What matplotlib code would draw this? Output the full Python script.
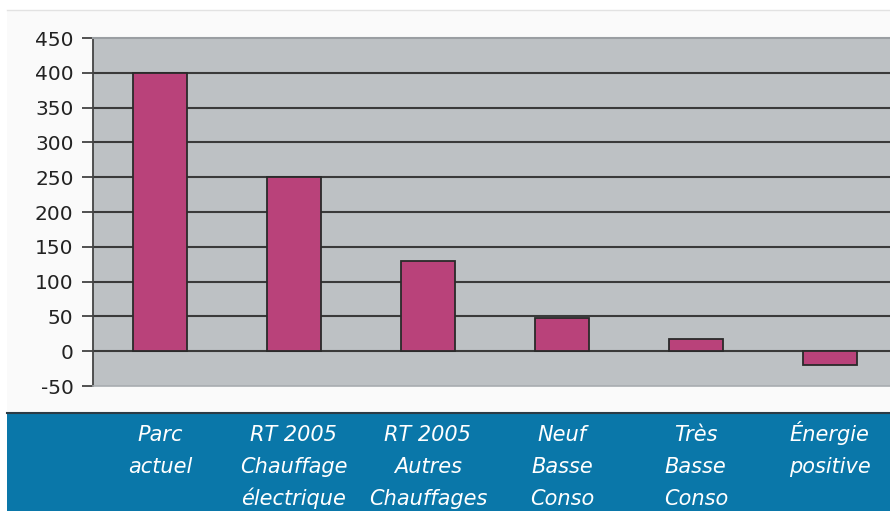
import matplotlib
matplotlib.use('AGG')
import matplotlib.pyplot as plt
from matplotlib.patches import Rectangle
from matplotlib.lines import Line2D
from matplotlib.transforms import blended_transform_factory

categories = ["Parc\nactuel",
              "RT 2005\nChauffage\nélectrique",
              "RT 2005\nAutres\nChauffages",
              "Neuf\nBasse\nConso",
              "Très\nBasse\nConso",
              "Énergie\npositive"]
values = [400, 250, 130, 48, 18, -20]
y_ticks = [-50, 0, 50, 100, 150, 200, 250, 300, 350, 400, 450]

W, H = 890, 511
fig = plt.figure(figsize=(W / 100, H / 100), dpi=100, facecolor='white')

# light backdrop and the blue band under the plot
fig.patches.append(Rectangle((7 / W, (H - 413) / H), 1 - 7 / W, (413 - 10) / H,
                             transform=fig.transFigure, facecolor='#fafafa',
                             edgecolor='none', zorder=-3))
fig.lines.append(Line2D([7 / W, 1], [(H - 10) / H] * 2, transform=fig.transFigure,
                        color='#e2e2e2', lw=1, zorder=-2))
fig.patches.append(Rectangle((7 / W, 0), 1 - 7 / W, (H - 414) / H,
                             transform=fig.transFigure, facecolor='#0a77a9',
                             edgecolor='none', zorder=-3))
fig.lines.append(Line2D([7 / W, 1], [(H - 413) / H] * 2, transform=fig.transFigure,
                        color='#2b3b45', lw=1.5, zorder=-2))

ax = fig.add_axes([93 / W, (H - 386) / H, (W - 93) / W, (386 - 38) / H])
ax.set_facecolor('#bdc1c4')

x = list(range(len(values)))
ax.bar(x, values, width=0.4, color='#b9427a', edgecolor='#2a2a2a',
       linewidth=1.3, zorder=3)

ax.set_ylim(-50, 450)
ax.set_xlim(-0.5, 5.45)
ax.set_yticks(y_ticks)
ax.set_yticklabels([str(v) for v in y_ticks])
for v in y_ticks[1:-1]:
    ax.axhline(v, color='#3a3a3a', lw=1.5, zorder=1)

ax.set_xticks([])
ax.tick_params(axis='y', direction='out', length=8, width=1.2, color='#333333',
               pad=6, labelsize=14.5, labelcolor='#222222')
ax.spines['right'].set_visible(False)
ax.spines['left'].set_color('#444444')
ax.spines['left'].set_linewidth(1.3)
ax.spines['top'].set_color('#9a9ea2')
ax.spines['top'].set_linewidth(1.5)
ax.spines['bottom'].set_color('#a8acb0')
ax.spines['bottom'].set_linewidth(1.2)

# category names, one text per line so the rows line up
trans = blended_transform_factory(ax.transData, fig.transFigure)
for xi, lab in zip(x, categories):
    for i, line in enumerate(lab.split('\n')):
        ax.text(xi, (H - 441 - 32 * i) / H, line, transform=trans,
                ha='center', va='baseline', fontsize=15,
                style='italic', color='white', clip_on=False)

plt.savefig('out.png', dpi=100, facecolor=fig.get_facecolor())
